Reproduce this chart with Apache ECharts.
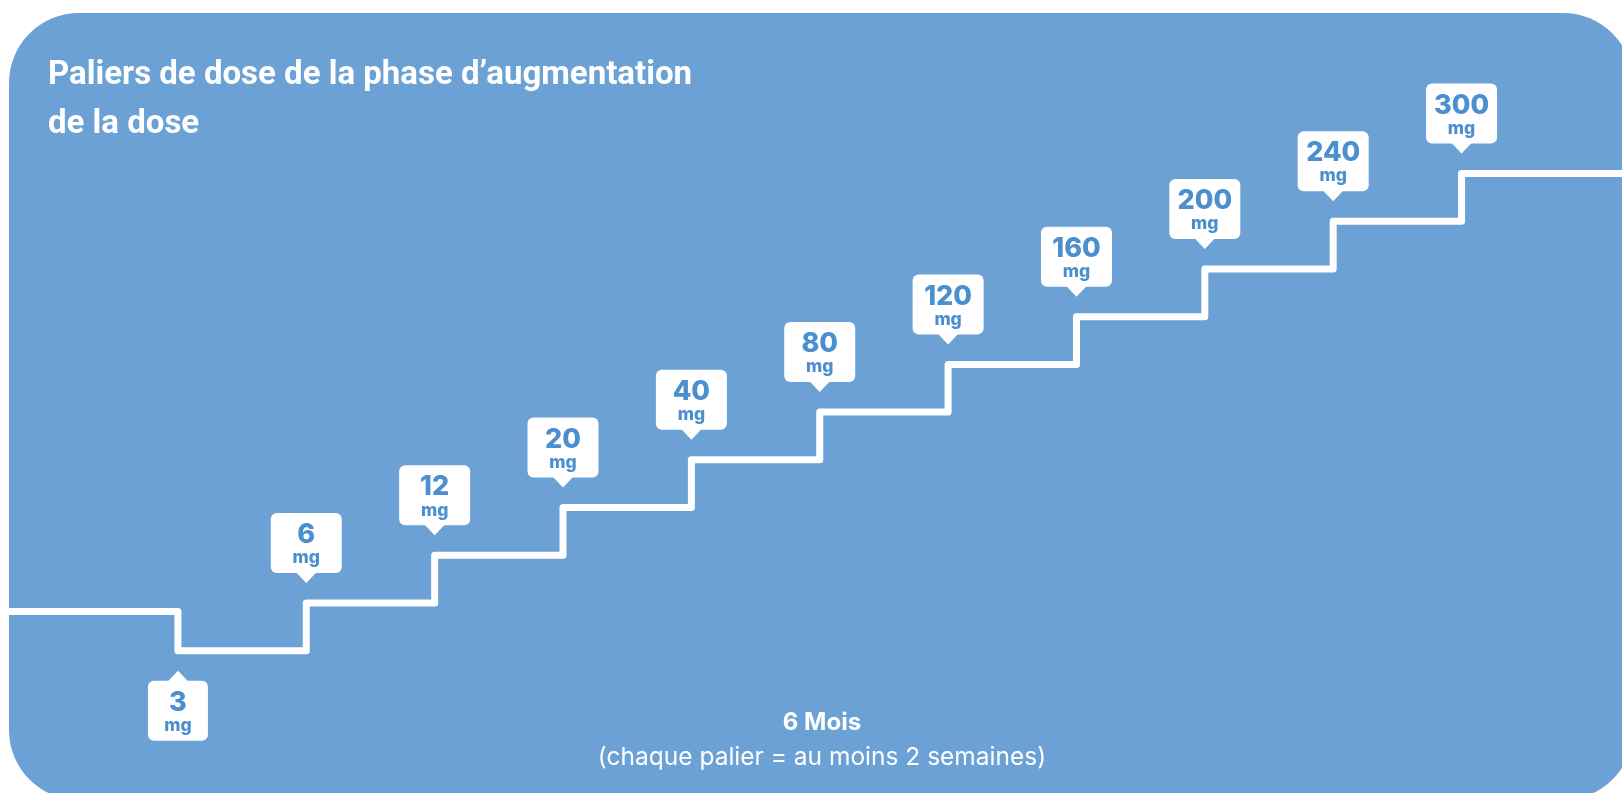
<!DOCTYPE html>
<html>
<head>
<meta charset="utf-8">
<script src="https://cdn.jsdelivr.net/npm/echarts@6/dist/echarts.min.js"></script>
<style>
  html,body{margin:0;padding:0;background:#fff;}
  #stairs{width:1622px;height:793px;}
</style>
</head>
<body>
<div id="stairs"></div>
<script>
  // paliers de dose (mg), un palier par marche
  var doses = ['3', '6', '12', '20', '40', '80', '120', '160', '200', '240', '300'];
  var stepX = [0, 1, 2, 3, 4, 5, 6, 7, 8, 9, 10];      // position de la marche
  var stepLevel = [0, 1, 2, 3, 4, 5, 6, 7, 8, 9, 10];  // hauteur de la marche
  var leadIn = [-1.316, 0.82];   // niveau avant le premier palier
  var tail = [11.25, 10];        // prolongement après 300 mg

  var panelBlue = '#6ba1d5';
  var boxText = '#4b8fcf';

  var stairsChart = echarts.init(document.getElementById('stairs'));

  var lineData = [leadIn];
  for (var i = 0; i < stepX.length; i++) { lineData.push([stepX[i], stepLevel[i]]); }
  lineData.push(tail);

  var boxData = [];
  for (var j = 0; j < doses.length; j++) {
    boxData.push([stepX[j], stepLevel[j], doses[j], j === 0 ? -1 : 1]);
  }

  function renderBox(params, api) {
    var p = api.coord([api.value(0), api.value(1)]);
    var dir = api.value(3);            // 1 = au-dessus, -1 = en dessous
    var label = doses[params.dataIndex];
    var w = dir < 0 ? 60 : 71, h = 60;
    var gap = 30, tip = 10;
    var top = dir > 0 ? p[1] - gap - h : p[1] + gap;
    var tri = dir > 0
      ? [[p[0] - 10, p[1] - gap - 0.5], [p[0] + 10, p[1] - gap - 0.5], [p[0], p[1] - gap + tip]]
      : [[p[0] - 10, p[1] + gap + 0.5], [p[0] + 10, p[1] + gap + 0.5], [p[0], p[1] + gap - tip]];
    return {
      type: 'group',
      children: [
        {type: 'rect', shape: {x: p[0] - w / 2, y: top, width: w, height: h, r: 6}, style: {fill: '#fff'}},
        {type: 'polygon', shape: {points: tri}, style: {fill: '#fff'}},
        {type: 'text', style: {text: label, x: p[0], y: top + 22, align: 'center', verticalAlign: 'middle',
          fill: boxText, font: '800 27px Inter'}},
        {type: 'text', style: {text: 'mg', x: p[0], y: top + 45, align: 'center', verticalAlign: 'middle',
          fill: boxText, font: '800 17.5px Inter'}}
      ]
    };
  }

  var stairsOption = {
    backgroundColor: '#fff',
    animation: false,
    graphic: [
      {type: 'rect', z: 0, shape: {x: 9, y: 13, width: 1624, height: 787, r: 70}, style: {fill: panelBlue}},
      {type: 'text', z: 1, style: {text: 'Paliers de dose de la phase d\u2019augmentation', x: 48, y: 76,
        verticalAlign: 'middle', fill: '#fff', font: 'bold 33px Roboto'}},
      {type: 'text', z: 1, style: {text: 'de la dose', x: 48, y: 125,
        verticalAlign: 'middle', fill: '#fff', font: 'bold 33px Roboto'}},
      {type: 'text', z: 1, style: {text: '6 Mois', x: 822, y: 723, align: 'center',
        verticalAlign: 'middle', fill: '#fff', font: 'bold 24px Inter'}},
      {type: 'text', z: 1, style: {text: '(chaque palier = au moins 2 semaines)', x: 822, y: 758, align: 'center',
        verticalAlign: 'middle', fill: '#fff', font: '24.5px Inter'}}
    ],
    grid: {left: 9, right: 0, top: 173.5, bottom: 142.3},
    xAxis: {type: 'value', min: -1.316, max: 11.25, show: false},
    yAxis: {type: 'value', min: 0, max: 10, show: false},
    series: [
      {
        type: 'line',
        z: 5,
        step: 'end',
        symbol: 'none',
        clip: false,
        lineStyle: {color: '#fff', width: 7, cap: 'butt', join: 'round'},
        data: lineData
      },
      {
        type: 'custom',
        z: 6,
        renderItem: renderBox,
        data: boxData
      }
    ]
  };

  stairsOption && stairsChart.setOption(stairsOption);
</script>
</body>
</html>
